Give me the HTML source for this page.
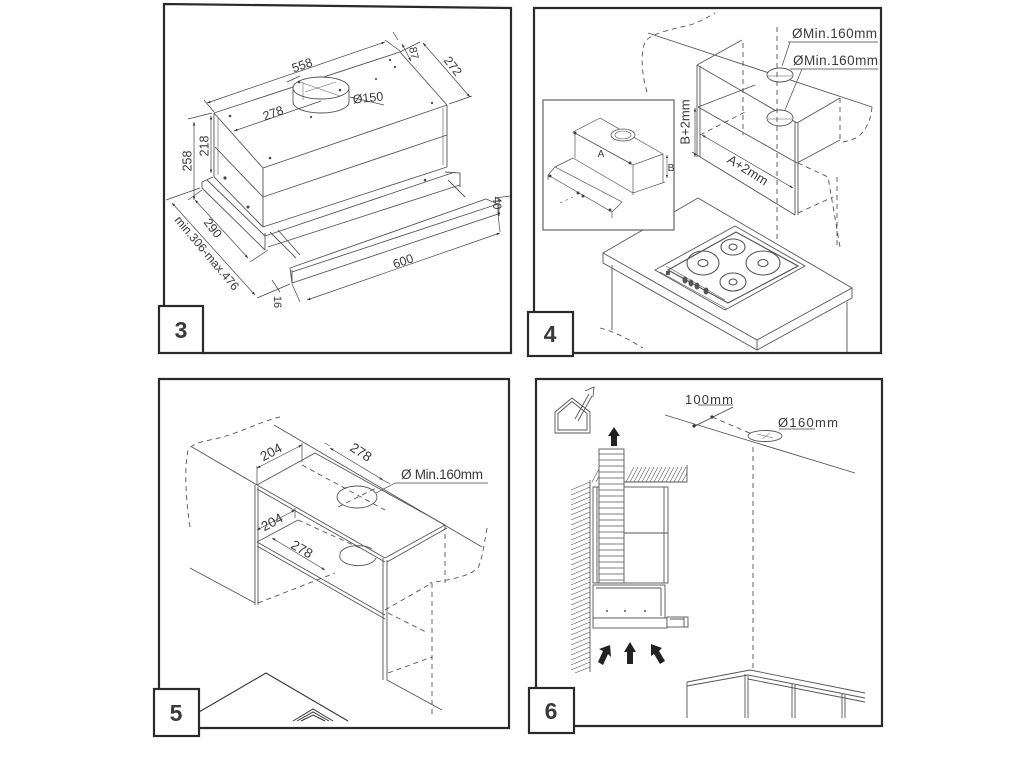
<!DOCTYPE html>
<html><head><meta charset="utf-8"><style>
html,body{margin:0;padding:0;background:#fff;}
svg{display:block}
text{font-family:"Liberation Sans",sans-serif;fill:#3a3a3a}
</style></head><body>
<svg width="1015" height="768" viewBox="0 0 1015 768" xmlns="http://www.w3.org/2000/svg">
<defs>
<marker id="ar" viewBox="0 0 10 10" refX="10" refY="5" markerWidth="5" markerHeight="5" orient="auto-start-reverse"><path d="M0,1.5 L10,5 L0,8.5z" fill="#333"/></marker>
</defs>
<rect width="1015" height="768" fill="#fff"/>

<!-- ================= PANEL 3 ================= -->
<g stroke="#555" stroke-width="0.9" fill="none">
  <!-- body -->
  <path d="M214,113 L263,168 L447,105 M214,113 L400,52 L447,105 M214,113 V177 L263,227 M263,168 V227 M447,105 V167 M263,227 L447,167 M263,197 L447,135 M215,147 L263,197"/>
  <path d="M218,118 V175 M443,108 V165" stroke-width="0.6"/>
  <!-- lower assembly -->
  <path d="M202,182 L213,177 M202,182 V188 L265,250 M207,180 L265,236 M265,233 V250 M265,236 L455,172 M268,247 L460,185 M445,172 L460,173 V187 M448,180 L465,197 M270,232 L296,258 M278,230 L300,255"/>
  <!-- visor -->
  <path d="M290,268 L486,199 L498,204 L498,214 L292,283 Z" fill="#fff"/>
  <path d="M292,272 L498,204"/>
  <path d="M292,283 V270" />
  <!-- collar -->
  <path d="M293,88 V102 A28,11 0 0 0 349,102 V88" fill="#fff"/>
  <ellipse cx="321" cy="88" rx="28" ry="11" fill="#fff"/>
  <path d="M300,82 L340,96 M305,92 L336,82 M303,82 V100" stroke-width="0.5"/>
  <!-- dims -->
  <g stroke="#444" stroke-width="0.7">
    <line x1="207" y1="103" x2="385" y2="42" marker-start="url(#ar)" marker-end="url(#ar)"/>
    <line x1="234" y1="131" x2="321" y2="101" marker-start="url(#ar)"/>
    <line x1="423" y1="43" x2="470" y2="97" marker-start="url(#ar)" marker-end="url(#ar)"/>
    <line x1="402" y1="44" x2="411" y2="61" marker-start="url(#ar)" marker-end="url(#ar)"/>
    <line x1="194" y1="122" x2="194" y2="200" marker-start="url(#ar)" marker-end="url(#ar)"/>
    <line x1="211" y1="116" x2="211" y2="173" marker-start="url(#ar)" marker-end="url(#ar)"/>
    <line x1="195" y1="200" x2="248" y2="258" marker-start="url(#ar)" marker-end="url(#ar)"/>
    <line x1="172" y1="203" x2="255" y2="295" marker-start="url(#ar)" marker-end="url(#ar)"/>
    <line x1="307" y1="300" x2="500" y2="233" marker-start="url(#ar)" marker-end="url(#ar)"/>
    <line x1="499" y1="198" x2="499" y2="216" marker-start="url(#ar)" marker-end="url(#ar)"/>
    <line x1="272" y1="280" x2="280" y2="292"/>
    <path d="M204,100 L214,112 M385,40 L400,51 M420,42 L400,52 M472,96 L449,104 M188,119 L212,113 M188,200 L202,190 M166,200 L200,188 M250,262 L268,250 M257,298 L290,284 M300,302 L292,284 M500,232 L498,214 M495,198 L510,196 M350,97 L384,105 M287,82 L300,76 M398,40 L393,32"/>
  </g>
  <!-- dots -->
  <g fill="#444" stroke="none">
    <circle cx="230" cy="116" r="1.3"/><circle cx="270" cy="158" r="1.3"/><circle cx="390" cy="60" r="1.1"/>
    <circle cx="395" cy="67" r="1.1"/><circle cx="432" cy="103" r="1.1"/><circle cx="376" cy="79" r="1"/>
    <circle cx="299" cy="82" r="1.3"/><circle cx="340" cy="90" r="1.3"/><circle cx="311" cy="117" r="1.1"/>
    <circle cx="225" cy="178" r="1.6"/><circle cx="248" cy="207" r="1.5"/><circle cx="425" cy="180" r="1.3"/>
  </g>
</g>
<g font-size="12.5" text-anchor="middle">
  <text transform="translate(302,65) rotate(-19)" dy=".35em">558</text>
  <text transform="translate(273,113) rotate(-20)" dy=".35em">278</text>
  <text x="368" y="102" transform="rotate(-6 368 98)">Ø150</text>
  <text transform="translate(414,53) rotate(78)" dy=".35em" font-size="11">87</text>
  <text transform="translate(453,66) rotate(52)" dy=".35em">272</text>
  <text transform="translate(187,161) rotate(-90)" dy=".35em">258</text>
  <text transform="translate(204,146) rotate(-90)" dy=".35em">218</text>
  <text transform="translate(213,228) rotate(52)" dy=".35em">290</text>
  <text transform="translate(207,253) rotate(50)" dy=".35em" font-size="12">min.306-max.476</text>
  <text transform="translate(278,302) rotate(90)" dy=".35em" font-size="11">16</text>
  <text transform="translate(403,261) rotate(-19)" dy=".35em">600</text>
  <text transform="translate(497,203) rotate(90)" dy=".35em" font-size="11.5">40</text>
</g>

<!-- ================= PANEL 4 ================= -->
<g stroke="#555" stroke-width="0.9" fill="none">
  <!-- wall cabinet -->
  <path d="M648,33 L872,107"/>
  <path d="M697,65 L742,40 M697,65 L797,123 M698,107 L797,163 M698,107 L755,85 M797,123 L840,98 M797,163 L840,140 M692,152 L795,215"/>
  <path d="M697,65 V157 M700,66 V157 M795,122 V215 M798,123 V215"/>
  <!-- holes -->
  <ellipse cx="780" cy="75" rx="13" ry="7" fill="#fff"/>
  <ellipse cx="780" cy="118" rx="13" ry="8" fill="#fff"/>
  <path d="M768,76 H792 M768,119 H792" stroke-width="0.6"/>
  <!-- dashed -->
  <g stroke-dasharray="5,4">
    <path d="M647,92 C642,75 640,55 645,42 C650,34 668,30 690,25 C700,22 708,17 715,13"/>
    <path d="M872,107 C871,118 868,128 858,137 C852,140 848,141 843,142"/>
    <path d="M743,43 V135 M840,98 V142 M777,27 V242"/>
    <path d="M798,163 L828,177 L840,247 M798,213 L833,197 M837,177 V247"/>
    <path d="M600,328 C612,331 625,337 643,348"/>
    <path d="M700,135 L745,112"/>
  </g>
  <!-- dims -->
  <g stroke="#444" stroke-width="0.7">
    <line x1="695" y1="108" x2="695" y2="157" marker-start="url(#ar)" marker-end="url(#ar)"/>
    <line x1="702" y1="135" x2="793" y2="188" marker-start="url(#ar)" marker-end="url(#ar)"/>
    <path d="M788,42 H878 M790,69 H878 M782,66 L790,42 M785,110 L802,69"/>
  </g>
  <!-- worktop -->
  <path d="M603,253 L698,198 L852,288 L757,340 Z" fill="#fff"/>
  <path d="M603,253 V263 L757,350 V340 M757,350 L852,298 V288"/>
  <path d="M612,265 V330 M847,302 V352"/>
  <!-- hob -->
  <path d="M655,270 L735,226 L805,266 L725,310 Z"/>
  <path d="M668,270 L736,232 L798,266 L728,303 Z" stroke-width="1.2"/>
  <path d="M660,272 L727,309 M666,266 L725,300" stroke-width="0.6"/>
  <g stroke-width="1.1">
    <ellipse cx="703" cy="263" rx="16" ry="12"/><ellipse cx="703" cy="263" rx="5" ry="3.5"/>
    <ellipse cx="733" cy="247" rx="12" ry="8"/><ellipse cx="733" cy="247" rx="4" ry="3"/>
    <ellipse cx="763" cy="263" rx="17" ry="12"/><ellipse cx="763" cy="263" rx="5" ry="3.5"/>
    <ellipse cx="733" cy="282" rx="13" ry="9"/><ellipse cx="733" cy="282" rx="4" ry="3"/>
  </g>
  <g fill="#555" stroke="none">
    <ellipse cx="685" cy="280" rx="2.5" ry="3.5"/><ellipse cx="691" cy="283" rx="2.5" ry="3.5"/>
    <ellipse cx="697" cy="286" rx="2.5" ry="3.5"/><ellipse cx="706" cy="291" rx="2.5" ry="3.5"/>
    <rect x="666" y="271" width="4" height="4"/>
  </g>
  <!-- inset -->
  <rect x="543" y="100" width="131" height="130" fill="#fff" stroke="#555" stroke-width="1.1"/>
  <path d="M573,132 L600,118 L663,154 L633,165 Z M575,132 V158 M633,165 V195 M663,154 V182 M573,158 L633,193 L665,182 M548,175 L612,212 L622,202 L555,167 Z M555,167 L573,158 M612,212 V218 M548,175 V180" stroke-width="0.7"/>
  <ellipse cx="623" cy="135" rx="12" ry="6" stroke-width="0.8" fill="#fff"/>
  <ellipse cx="623" cy="135" rx="8" ry="4" stroke-width="0.6"/>
  <path d="M575,133 L630,163" stroke-width="0.6"/>
  <line x1="667" y1="155" x2="667" y2="178" stroke-width="0.6" marker-start="url(#ar)" marker-end="url(#ar)"/>
  <path d="M560,203 L573,197" stroke-dasharray="3,3" stroke-width="0.6"/>
  <g fill="#444" stroke="none"><circle cx="575" cy="133" r="1.5"/><circle cx="630" cy="163" r="1.5"/><circle cx="578" cy="193" r="1.5"/><circle cx="583" cy="196" r="1.5"/><circle cx="610" cy="210" r="1.5"/><circle cx="550" cy="176" r="1.5"/></g>
</g>
<g font-size="13.5">
  <text x="792" y="38" textLength="85">ØMin.160mm</text>
  <text x="793" y="65" textLength="85">ØMin.160mm</text>
  <text transform="translate(685,122) rotate(-90)" dy=".35em" text-anchor="middle" font-size="13">B+2mm</text>
  <text transform="translate(748,170) rotate(32)" dy=".35em" text-anchor="middle" font-size="13">A+2mm</text>
  <text x="601" y="157" font-size="10" text-anchor="middle">A</text>
  <text x="671" y="171" font-size="10" text-anchor="middle">B</text>
</g>

<!-- ================= PANEL 5 ================= -->
<g stroke="#555" stroke-width="0.9" fill="none">
  <path d="M192,447 L257,485 M274,425 L482,547"/>
  <path d="M257,485 L385,558 M257,489 L385,562 M385,558 L445,525 M387,562 L447,528 M257,485 L315,453 L445,525"/>
  <path d="M255,485 V605 M258,487 V605 M383,558 V680 M387,560 V680"/>
  <path d="M257,542 L385,615 M257,546 L385,619 M257,542 L298,520"/>
  <path d="M190,568 L255,603 M387,680 L442,710"/>
  <ellipse cx="357" cy="497" rx="20" ry="11" fill="#fff"/>
  <path d="M340,555 A18,9 0 0 0 376,558" />
  <path d="M340,555 A18,9 0 0 1 372,549"/>
  <g stroke-dasharray="5,4">
    <path d="M190,527 C186,500 184,470 188,450 C195,440 210,442 232,434 C252,427 266,420 280,417"/>
    <path d="M302,465 L385,510 M338,507 L378,487 M445,525 V583 M487,528 C484,545 482,560 478,568 C470,575 460,578 430,583 M385,610 L432,583 M432,583 V717 M388,613 L428,633 M388,673 L432,657 M258,603 L335,573 M298,520 L360,548"/>
  </g>
  <g stroke="#444" stroke-width="0.7">
    <line x1="257" y1="468" x2="302" y2="445" marker-start="url(#ar)" marker-end="url(#ar)"/>
    <line x1="330" y1="448" x2="383" y2="480" marker-start="url(#ar)" marker-end="url(#ar)"/>
    <line x1="257" y1="530" x2="295" y2="510" marker-start="url(#ar)" marker-end="url(#ar)"/>
    <line x1="272" y1="538" x2="325" y2="570" marker-start="url(#ar)" marker-end="url(#ar)"/>
    <path d="M257,466 V485 M302,443 V462 M330,446 L325,443 M383,480 L390,484 M295,508 V518 M395,483 H488 M376,493 L395,483"/>
  </g>
  <!-- bottom triangle -->
  <path d="M199,712 L266,673 L348,721" stroke="#333" stroke-width="1.1"/>
  <path d="M293,721 L313,709 L333,721 M297,721 L313,712 L329,721 M301,721 L313,715 L325,721" stroke="#333" stroke-width="1"/>
</g>
<g font-size="13.5" text-anchor="middle">
  <text transform="translate(271,452) rotate(-28)" dy=".35em">204</text>
  <text transform="translate(361,452) rotate(33)" dy=".35em">278</text>
  <text transform="translate(272,522) rotate(-28)" dy=".35em">204</text>
  <text transform="translate(302,549) rotate(30)" dy=".35em">278</text>
  <text x="442" y="479" textLength="82">Ø Min.160mm</text>
</g>

<!-- ================= PANEL 6 ================= -->
<g stroke="#555" stroke-width="0.9" fill="none">
  <!-- house icon -->
  <path d="M555,433 V412 L572,398 L590,412 V433 Z M558,430 V413.5 L572,401.5 L587,413.5 V430 Z"/>
  <path d="M575,419 L589,394 M578,421 L592,396 M585,391 L594,387 L593,397"/>
  <!-- up arrow -->
  <path d="M614,427 L620,436 L617,436 L617,446 L611,446 L611,436 L608,436 Z" fill="#222" stroke="none"/>
  <!-- ceiling hatch -->
  <path d="M624,482 H687 V465"/>
  <path d="M592,482 L600,467 M596,482 L600,474 M626,482 L634,467 M630,482 L638,467 M634,482 L642,467 M638,482 L646,467 M642,482 L650,467 M646,482 L654,467 M650,482 L658,467 M654,482 L662,467 M658,482 L666,467 M662,482 L670,467 M666,482 L674,467 M670,482 L678,467 M674,482 L682,467 M678,482 L686,467 M682,482 L687,473" stroke-width="0.6"/>
  <!-- wall hatch -->
  <path d="M590,480 V672"/>
  <path id="wh" stroke-width="0.6" d="M571,490 L590,482 M571,495 L590,487 M571,500 L590,492 M571,505 L590,497 M571,510 L590,502 M571,515 L590,507 M571,520 L590,512 M571,525 L590,517 M571,530 L590,522 M571,535 L590,527 M571,540 L590,532 M571,545 L590,537 M571,550 L590,542 M571,555 L590,547 M571,560 L590,552 M571,565 L590,557 M571,570 L590,562 M571,575 L590,567 M571,580 L590,572 M571,585 L590,577 M571,590 L590,582 M571,595 L590,587 M571,600 L590,592 M571,605 L590,597 M571,610 L590,602 M571,615 L590,607 M571,620 L590,612 M571,625 L590,617 M571,630 L590,622 M571,635 L590,627 M571,640 L590,632 M571,645 L590,637 M571,650 L590,642 M571,655 L590,647 M571,660 L590,652 M571,665 L590,657 M571,670 L590,662 M575,673 L590,667"/>
  <!-- cabinet -->
  <rect x="593" y="487" width="75" height="96"/>
  <path d="M597,487 V583 M664,487 V583 M624,533 H668"/>
  <!-- duct -->
  <rect x="599" y="449" width="25" height="134" fill="#fff"/>
  <path stroke-width="0.7" d="M599,454 H624 M599,460 H624 M599,466 H624 M599,472 H624 M599,478 H624 M599,484 H624 M599,490 H624 M599,496 H624 M599,502 H624 M599,508 H624 M599,514 H624 M599,520 H624 M599,526 H624 M599,532 H624 M599,538 H624 M599,544 H624 M599,550 H624 M599,556 H624 M599,562 H624 M599,568 H624 M599,574 H624 M599,580 H624"/>
  <!-- hood -->
  <rect x="593" y="585" width="72" height="33" fill="#fff"/>
  <path d="M661,588 V616 M596,588 H661"/>
  <rect x="593" y="618" width="74" height="10" fill="#fff"/>
  <rect x="667" y="617" width="21" height="10" fill="#fff"/>
  <path d="M670,619 H684 V626 M684,617 V627"/>
  <g fill="#555" stroke="none"><circle cx="607" cy="611" r="1"/><circle cx="625" cy="611" r="1"/><circle cx="645" cy="611" r="1"/></g>
  <!-- air arrows -->
  <g fill="#222" stroke="none">
    <path d="M610,645 L611,657 L608,654 L603,665 L598,662 L603,651 L599,649 Z"/>
    <path d="M630,642 L636,652 L633,652 L633,664 L627,664 L627,652 L624,652 Z"/>
    <path d="M651,644 L662,648 L659,651 L665,661 L660,664 L654,654 L651,656 Z"/>
  </g>
  <!-- ceiling line -->
  <path d="M665,415 L855,473"/>
  <g stroke="#444" stroke-width="0.7">
    <path d="M733,407 L693,427 M698,405 H733 M779,429 H815"/>
  </g>
  <g fill="#333" stroke="none"><circle cx="694" cy="426" r="1.6"/><circle cx="712" cy="417" r="1.6"/></g>
  <ellipse cx="765" cy="436" rx="17" ry="5.5" fill="#fff"/>
  <path d="M757,434 L773,438 M762,439 L770,433" stroke-width="0.5"/>
  <g stroke-dasharray="5,4">
    <path d="M712,417 L752,434 M753,447 V670"/>
  </g>
  <!-- counter -->
  <path d="M687,682 L750,670 L865,693 M687,686 L748,675 L865,698 M748,679 L865,702"/>
  <path d="M687,682 V718 M745,674 V718 M748,676 V718 M792,684 V718 M795,685 V718 M842,694 V718 M845,695 V718"/>
</g>
<g font-size="13" text-anchor="middle">
  <text x="709" y="404" textLength="48">100mm</text>
  <text x="808" y="427" textLength="60">Ø160mm</text>
</g>

<!-- ================= FRAMES & NUMBER BOXES ================= -->
<g stroke="#2a2a2a" stroke-width="2.2" fill="none">
  <polyline points="164,306 164,4 511,8 511,353 203,353"/>
  <polyline points="534,312 534,8 881,8 881,353 573,353"/>
  <polyline points="159,689 159,379 509,379 509,728 199,728"/>
  <polyline points="536,688 536,379 882,379 882,726 574,726"/>
</g>
<g stroke="#2a2a2a" stroke-width="2.2" fill="#fff">
  <rect x="159" y="306" width="44" height="47"/>
  <rect x="528" y="312" width="45" height="44"/>
  <rect x="154" y="689" width="45" height="47"/>
  <rect x="529" y="688" width="45" height="45"/>
</g>
<g font-size="23" font-weight="bold" text-anchor="middle" style="fill:#222">
  <text x="181" y="338">3</text>
  <text x="550" y="342">4</text>
  <text x="176" y="721">5</text>
  <text x="551" y="719">6</text>
</g>
</svg>
</body></html>
